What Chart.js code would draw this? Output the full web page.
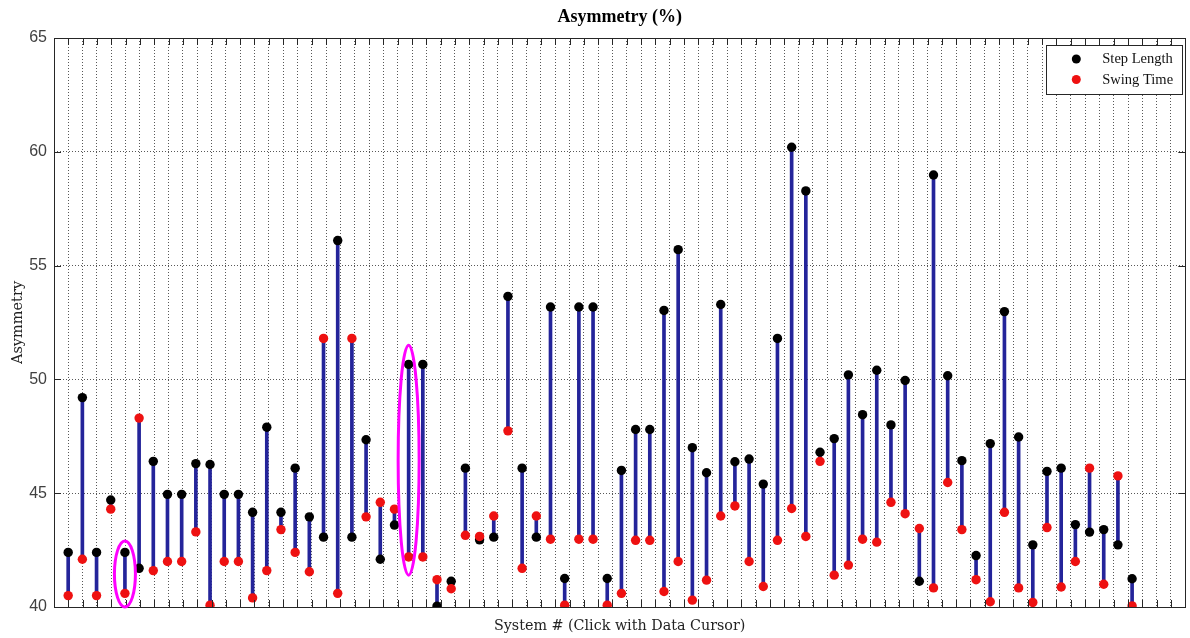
<!DOCTYPE html>
<html>
<head>
<meta charset="utf-8">
<script src="https://cdn.jsdelivr.net/npm/chart.js@4.4.1/dist/chart.umd.min.js"></script>
<style>
  html, body { margin: 0; padding: 0; background: #ffffff; }
  #wrap { width: 1190px; height: 638px; }
</style>
</head>
<body>
<div id="wrap"><canvas id="c" width="1190" height="638"></canvas></div>
<script>
// Asymmetry (%) per system: step length vs swing time
const systems = Array.from({ length: 76 }, (_, i) => i + 1);

const stepLength = [
  42.4, 49.2, 42.4, 44.7, 42.4, 41.7, 46.4, 44.95, 44.95, 46.3,
  46.26, 44.95, 44.95, 44.16, 47.9, 44.16, 46.1, 43.96, 43.07, 56.1,
  43.07, 47.35, 42.1, 43.6, 50.66, 50.66, 40.04, 41.13, 46.1, 42.95,
  43.07, 53.65, 46.1, 43.07, 53.18, 41.25, 53.18, 53.18, 41.25, 46.0,
  47.8, 47.8, 53.03, 55.7, 47.0, 45.9, 53.29, 46.38, 46.5, 45.4,
  51.8, 60.2, 58.28, 46.8, 47.4, 50.2, 48.45, 50.4, 48.0, 49.95,
  41.13, 58.98, 50.16, 46.43, 42.26, 47.18, 52.98, 47.47, 42.73, 45.96,
  46.1, 43.62, 43.29, 43.4, 42.73, 41.24
];

const swingTime = [
  40.5, 42.1, 40.5, 44.3, 40.6, 48.3, 41.6, 42.0, 42.0, 43.3,
  40.08, 42.0, 42.0, 40.4, 41.6, 43.4, 42.4, 41.55, 51.8, 40.6,
  51.8, 43.96, 44.6, 44.3, 42.2, 42.2, 41.2, 40.8, 43.15, 43.1,
  44.0, 47.74, 41.7, 44.0, 42.98, 40.08, 42.98, 42.98, 40.08, 40.6,
  42.93, 42.93, 40.68, 42.0, 40.3, 41.18, 44.0, 44.44, 42.0, 40.9,
  42.93, 44.33, 43.1, 46.4, 41.4, 41.84, 42.98, 42.85, 44.6, 44.1,
  43.45, 40.84, 45.47, 43.4, 41.2, 40.23, 44.16, 40.84, 40.2, 43.49,
  40.88, 42.0, 46.1, 41.0, 45.76, 40.05
];

const yTicks = [40, 45, 50, 55, 60, 65];

// Systems circled for attention: [system, lower asymmetry, upper asymmetry]
const highlighted = [
  [5, 40.0, 42.9],
  [25, 41.4, 51.5]
];

const stemData = systems.map((s, i) => ({ x: s, y: [Math.min(stepLength[i], swingTime[i]), Math.max(stepLength[i], swingTime[i])] }));
const stepPoints = systems.map((s, i) => ({ x: s, y: stepLength[i] }));
const swingPoints = systems.map((s, i) => ({ x: s, y: swingTime[i] }));

const FRAME = '#262626';
const GRID = 'rgba(70,70,70,0.9)';

// Box frame with inward tick marks on all four sides
const framePlugin = {
  id: 'frame',
  afterDatasetsDraw(chart) {
    const { ctx, chartArea: a } = chart;
    const g = chart.scales.xg, y = chart.scales.y;
    ctx.save();
    ctx.strokeStyle = FRAME;
    ctx.lineWidth = 1;
    ctx.beginPath();
    g.ticks.forEach(t => {
      if (t.value <= g.min || t.value >= g.max) return;
      const px = Math.round(g.getPixelForValue(t.value)) + 0.5;
      ctx.moveTo(px, a.top); ctx.lineTo(px, a.top + 7);
      ctx.moveTo(px, a.bottom); ctx.lineTo(px, a.bottom - 7);
    });
    yTicks.forEach(v => {
      const py = Math.round(y.getPixelForValue(v)) + 0.5;
      ctx.moveTo(a.left, py); ctx.lineTo(a.left + 7, py);
      ctx.moveTo(a.right, py); ctx.lineTo(a.right - 7, py);
    });
    ctx.stroke();
    ctx.strokeRect(Math.round(a.left) + 0.5, Math.round(a.top) + 0.5, Math.round(a.right - a.left), Math.round(a.bottom - a.top));
    ctx.restore();
  }
};

// Magenta rings around selected systems
const ringPlugin = {
  id: 'rings',
  afterDatasetsDraw(chart) {
    const { ctx } = chart;
    const x = chart.scales.x, y = chart.scales.y;
    ctx.save();
    ctx.strokeStyle = '#ff00ff';
    ctx.lineWidth = 3;
    highlighted.forEach(([s, lo, hi]) => {
      const cx = x.getPixelForValue(s);
      const top = y.getPixelForValue(hi), bot = y.getPixelForValue(lo);
      ctx.beginPath();
      ctx.ellipse(cx, (top + bot) / 2, 10.5, (bot - top) / 2, 0, 0, Math.PI * 2);
      ctx.stroke();
    });
    ctx.restore();
  }
};

// Boxed legend in the upper right corner of the plot
const legendPlugin = {
  id: 'boxLegend',
  afterDraw(chart) {
    const { ctx, chartArea: a } = chart;
    const items = chart.data.datasets.filter(d => d.type === 'scatter');
    const w = 136, h = 49;
    const bx = a.right - 3 - w, by = a.top + 7;
    ctx.save();
    ctx.fillStyle = '#ffffff';
    ctx.fillRect(bx, by, w, h);
    ctx.strokeStyle = FRAME;
    ctx.lineWidth = 1;
    ctx.strokeRect(Math.round(bx) + 0.5, Math.round(by) + 0.5, w, h);
    ctx.font = '14.5px "Liberation Serif", "Times New Roman", serif';
    ctx.textBaseline = 'middle';
    ctx.textAlign = 'left';
    items.forEach((d, i) => {
      const cy = by + 14 + i * 20.5;
      ctx.beginPath();
      ctx.fillStyle = d.backgroundColor;
      ctx.arc(bx + 30, cy, 4.5, 0, Math.PI * 2);
      ctx.fill();
      ctx.fillStyle = '#111111';
      ctx.fillText(d.label, bx + 56, cy + 0.5);
    });
    ctx.restore();
  }
};

new Chart(document.getElementById('c'), {
  type: 'scatter',
  data: {
    datasets: [
      {
        type: 'bar',
        label: 'Range',
        data: stemData,
        backgroundColor: '#24249a',
        borderWidth: 0,
        barThickness: 3,
        order: 2
      },
      {
        type: 'scatter',
        label: 'Step Length',
        data: stepPoints,
        backgroundColor: '#000000',
        borderColor: '#000000',
        pointRadius: 4.7,
        pointBorderWidth: 0,
        order: 1
      },
      {
        type: 'scatter',
        label: 'Swing Time',
        data: swingPoints,
        backgroundColor: '#ee1111',
        borderColor: '#ee1111',
        pointRadius: 4.7,
        pointBorderWidth: 0,
        order: 0
      }
    ]
  },
  options: {
    responsive: false,
    animation: false,
    layout: { padding: { left: 0, right: 4, top: 0, bottom: 0 } },
    plugins: {
      legend: { display: false },
      tooltip: { enabled: false },
      title: { display: false }
    },
    scales: {
      x: {
        type: 'linear',
        position: 'bottom',
        min: 0,
        max: 79.75,
        offset: false,
        grid: { display: false, offset: false },
        border: { display: false },
        ticks: { display: false },
        title: {
          display: true,
          text: 'System # (Click with Data Cursor)',
          color: '#222222',
          font: { family: '"DejaVu Serif", serif', size: 14.3 },
          padding: { top: 0, bottom: 3 }
        },
        afterFit(scale) { scale.height = 31; }
      },
      xg: {
        type: 'linear',
        position: 'top',
        min: 0,
        max: 79,
        offset: false,
        ticks: { display: false, stepSize: 1 },
        border: { display: false, dash: [1, 2] },
        grid: {
          display: true,
          drawTicks: false,
          color: GRID,
          lineWidth: 1
        },
        title: {
          display: true,
          text: 'Asymmetry (%)',
          color: '#000000',
          font: { family: '"Liberation Serif", "Times New Roman", serif', size: 18, weight: 'bold' },
          padding: { top: 7, bottom: 0 }
        },
        afterFit(scale) { scale.height = 38; }
      },
      y: {
        type: 'linear',
        position: 'left',
        min: 40,
        max: 65,
        afterBuildTicks(scale) { scale.ticks = yTicks.map(v => ({ value: v })); },
        ticks: {
          color: '#404040',
          padding: 7,
          font: { family: '"Liberation Sans", Arial, sans-serif', size: 16 }
        },
        border: { display: false, dash: [1, 2] },
        grid: {
          display: true,
          drawTicks: false,
          color: GRID,
          lineWidth: 1
        },
        title: {
          display: true,
          text: 'Asymmetry',
          color: '#222222',
          font: { family: '"DejaVu Serif", serif', size: 14.5 },
          padding: { top: 10, bottom: 0 }
        },
        afterFit(scale) { scale.width = 54; }
      }
    }
  },
  plugins: [framePlugin, ringPlugin, legendPlugin]
});
</script>
</body>
</html>
